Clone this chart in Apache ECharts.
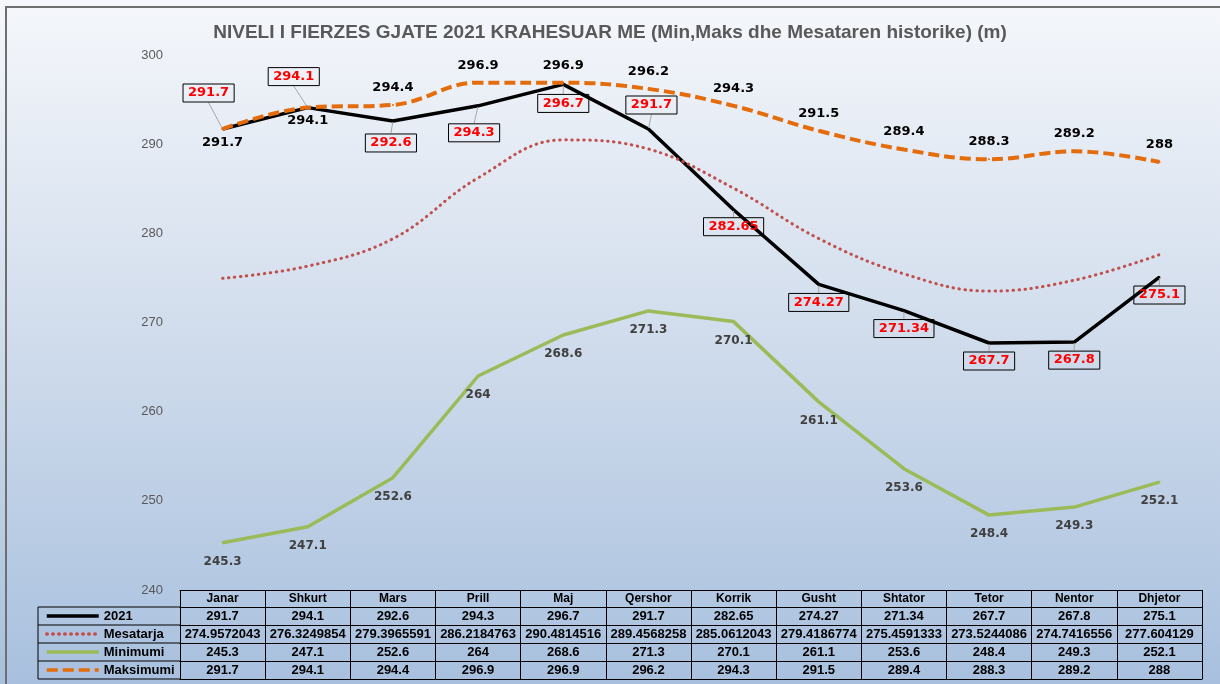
<!DOCTYPE html>
<html>
<head>
<meta charset="utf-8">
<script src="https://cdn.jsdelivr.net/npm/echarts@6/dist/echarts.min.js"></script>
<style>
  html, body { margin: 0; padding: 0; }
  #main { width: 1220px; height: 684px; }
</style>
</head>
<body>
<div id="main"></div>
<script>
const categories = ["Janar", "Shkurt", "Mars", "Prill", "Maj", "Qershor", "Korrik", "Gusht", "Shtator", "Tetor", "Nentor", "Dhjetor"];
const seriesNames = ["2021", "Mesatarja", "Minimumi", "Maksimumi"];
const values2021 = [291.7, 294.1, 292.6, 294.3, 296.7, 291.7, 282.65, 274.27, 271.34, 267.7, 267.8, 275.1];
const mesatarja = [274.9572043, 276.3249854, 279.3965591, 286.2184763, 290.4814516, 289.4568258, 285.0612043, 279.4186774, 275.4591333, 273.5244086, 274.7416556, 277.604129];
const minimumi = [245.3, 247.1, 252.6, 264, 268.6, 271.3, 270.1, 261.1, 253.6, 248.4, 249.3, 252.1];
const maksimumi = [291.7, 294.1, 294.4, 296.9, 296.9, 296.2, 294.3, 291.5, 289.4, 288.3, 289.2, 288];
const yMin = 240, yMax = 300, yStep = 10;

// where the boxed 2021 labels sit relative to their point (px)
const boxOffsets = [[-14, -36], [-14, -31], [-2, 22], [-4, 27], [0, 19], [3, -24],
  [0, 17], [0, 18], [0, 18], [0, 18], [0, 18], [0, 18]];

const colors = { y2021: "#000000", mes: "#c0504d", min: "#9bbb59", maks: "#e46c0a" };

// layout of plot + data table
const gridLeft = 180, gridRight = 18, gridTop = 55, gridBottom = 94;
const rowH = 18;
const tableTop = 684 - gridBottom; // 590
const tableLeft = 38;

const cellText = { fontFamily: "Liberation Sans", fontWeight: "bold", fontSize: 13, color: "#000" };

// one extra x axis per table row, its labels are the series values
const rows = [values2021, mesatarja, minimumi, maksimumi];
const tableAxes = rows.map((vals, k) => ({
  type: "category",
  data: vals.map((v) => String(v)),
  position: "bottom",
  offset: (rowH - 1) + rowH * k,
  axisLine: { show: true, lineStyle: { color: "#000", width: 1 } },
  axisTick: { show: true, length: rowH, lineStyle: { color: "#000", width: 1 } },
  axisLabel: Object.assign({ interval: 0, margin: 3 }, cellText),
  splitLine: { show: false },
}));

// left column of table (legend cells)
const leftCol = [];
for (let k = 0; k <= 4; k++) {
  const y = tableTop + rowH - 1 + rowH * k;
  leftCol.push({
    type: "line",
    shape: { x1: tableLeft, y1: y, x2: gridLeft, y2: y },
    style: { stroke: "#000", lineWidth: 1 },
  });
}
leftCol.push({
  type: "line",
  shape: { x1: tableLeft, y1: tableTop + rowH - 1, x2: tableLeft, y2: tableTop + rowH - 1 + rowH * 4 },
  style: { stroke: "#000", lineWidth: 1 },
});

const chart = echarts.init(document.getElementById("main"));
chart.setOption({
  backgroundColor: new echarts.graphic.LinearGradient(0, 0, 0, 1, [
    { offset: 0, color: "#f5f7fb" },
    { offset: 0.5, color: "#d0dcec" },
    { offset: 1, color: "#a8c0de" },
  ]),
  animation: false,
  title: {
    text: "NIVELI I FIERZES GJATE 2021 KRAHESUAR ME (Min,Maks dhe Mesataren historike) (m)",
    left: "center",
    top: 18,
    textStyle: { fontFamily: "Liberation Sans", fontSize: 19, fontWeight: "bold", color: "#595959" },
  },
  legend: {
    orient: "vertical",
    left: 45,
    top: tableTop + rowH - 1,
    padding: 0,
    itemGap: 0,
    itemWidth: 52,
    itemHeight: rowH,
    itemStyle: { opacity: 0 },
    lineStyle: { width: 3.5 },
    data: seriesNames,
    textStyle: { fontFamily: "Liberation Sans", fontWeight: "bold", fontSize: 13, color: "#000", lineHeight: rowH },
  },
  grid: { left: gridLeft, right: gridRight, top: gridTop, bottom: gridBottom },
  xAxis: [
    {
      type: "category",
      data: categories,
      position: "bottom",
      axisLine: { show: true, lineStyle: { color: "#000", width: 1 } },
      axisTick: { show: true, length: rowH - 1, lineStyle: { color: "#000", width: 1 } },
      axisLabel: Object.assign({ interval: 0, margin: 3 }, cellText, { fontSize: 12 }),
    },
    ...tableAxes,
    {
      type: "category",
      data: categories,
      position: "bottom",
      offset: (rowH - 1) + rowH * 4,
      axisLine: { show: true, lineStyle: { color: "#000", width: 1 } },
      axisTick: { show: false },
      axisLabel: { show: false },
    },
  ],
  yAxis: {
    type: "value",
    min: yMin,
    max: yMax,
    interval: yStep,
    axisLine: { show: false },
    axisTick: { show: false },
    splitLine: { show: false },
    axisLabel: { color: "#595959", fontFamily: "Liberation Sans", fontSize: 13, margin: 17 },
  },
  graphic: [
    {
      type: "rect",
      shape: { x: 6, y: 7, width: 1240, height: 700 },
      style: { fill: "none", stroke: "#6f6f6f", lineWidth: 2 },
      silent: true,
    },
    ...leftCol,
  ],
  series: [
    {
      name: "2021",
      type: "line",
      data: values2021,
      symbol: "circle",
      symbolSize: 2,
      itemStyle: { color: colors.y2021 },
      lineStyle: { color: colors.y2021, width: 3.5 },
      label: {
        show: true,
        position: "inside",
        color: "#ff0000",
        fontFamily: "DejaVu Sans",
        fontWeight: "bold",
        fontSize: 13,
        borderColor: "#000",
        borderWidth: 1,
        padding: [3, 5, 2, 5],
      },
      labelLine: { show: true, lineStyle: { color: "#a6a6a6", width: 1 } },
      labelLayout: (p) => ({ dx: boxOffsets[p.dataIndex][0], dy: boxOffsets[p.dataIndex][1] }),
      z: 3,
    },
    {
      name: "Mesatarja",
      type: "line",
      data: mesatarja,
      smooth: 0.4,
      symbol: "none",
      itemStyle: { color: colors.mes },
      lineStyle: { color: colors.mes, width: 3, type: [0.5, 5.5], cap: "round" },
      z: 4,
    },
    {
      name: "Minimumi",
      type: "line",
      data: minimumi,
      symbol: "circle",
      symbolSize: 2,
      itemStyle: { color: colors.min },
      lineStyle: { color: colors.min, width: 3.5 },
      label: {
        show: true,
        position: "bottom",
        distance: 12,
        color: "#404040",
        fontFamily: "DejaVu Sans",
        fontWeight: "bold",
        fontSize: 12,
      },
      z: 5,
    },
    {
      name: "Maksimumi",
      type: "line",
      data: maksimumi.map((v, i) => ({
        value: v,
        label: { position: i < 2 ? "bottom" : "top", distance: i < 2 ? 6 : 10 },
      })),
      smooth: 0.4,
      symbol: "circle",
      symbolSize: 2,
      itemStyle: { color: colors.maks },
      lineStyle: { color: colors.maks, width: 4, type: [11, 5] },
      label: {
        show: true,
        color: "#000",
        fontFamily: "DejaVu Sans",
        fontWeight: "bold",
        fontSize: 13,
      },
      z: 6,
    },
  ],
});
</script>
</body>
</html>
